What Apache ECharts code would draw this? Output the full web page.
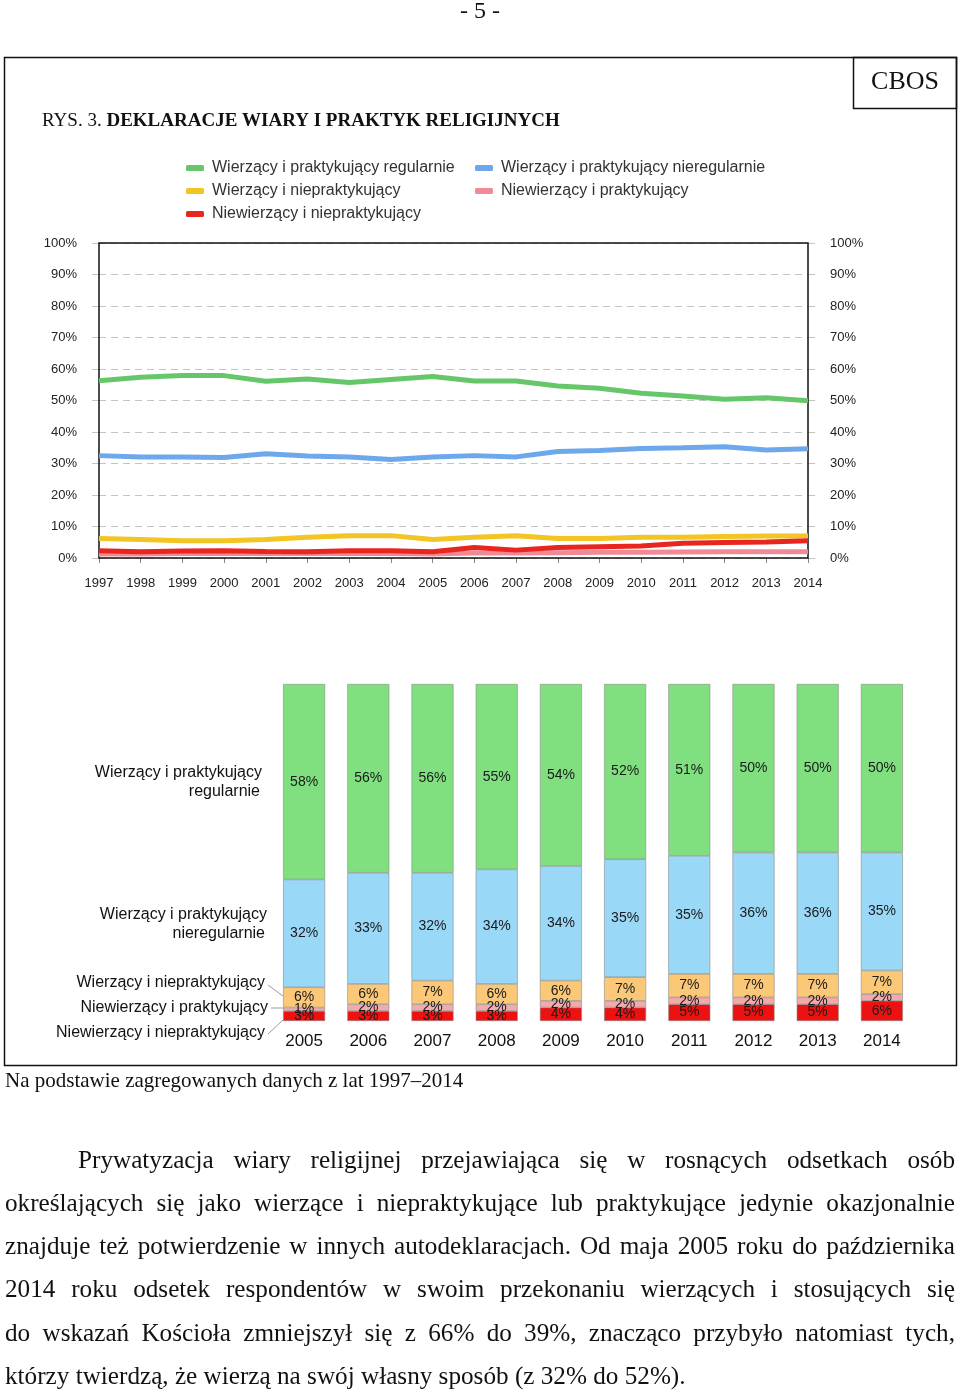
<!DOCTYPE html>
<html>
<head>
<meta charset="utf-8">
<script src="https://cdn.jsdelivr.net/npm/echarts@6/dist/echarts.min.js"></script>
<style>
  html, body { margin: 0; padding: 0; background: #fff; }
  #wrap { position: relative; width: 960px; height: 1392px; overflow: hidden; }
  #chart { position: absolute; left: 0; top: 0; width: 960px; height: 1392px; }
  .pl { position: absolute; left: 5px; width: 950px; font-family: "Liberation Serif", "Times New Roman", serif;
        font-size: 25.2px; color: #111; white-space: nowrap; text-align: justify; text-align-last: justify; line-height: 30px; }
  .pl.last { text-align-last: left; }
</style>
</head>
<body>
<div id="wrap">
  <div id="chart"></div>
  <div class="pl" style="top:1145px; left:78px; width:877px;">Prywatyzacja wiary religijnej przejawiająca się w rosnących odsetkach osób</div>
  <div class="pl" style="top:1188px;">określających się jako wierzące i niepraktykujące lub praktykujące jedynie okazjonalnie</div>
  <div class="pl" style="top:1231px;">znajduje też potwierdzenie w innych autodeklaracjach. Od maja 2005 roku do października</div>
  <div class="pl" style="top:1274px;">2014 roku odsetek respondentów w swoim przekonaniu wierzących i stosujących się</div>
  <div class="pl" style="top:1318px;">do wskazań Kościoła zmniejszył się z 66% do 39%, znacząco przybyło natomiast tych,</div>
  <div class="pl last" style="top:1361px;">którzy twierdzą, że wierzą na swój własny sposób (z 32% do 52%).</div>
</div>
<script>
// ---- Line chart data (1997–2014) ----
var lineYears = ['1997','1998','1999','2000','2001','2002','2003','2004','2005','2006','2007','2008','2009','2010','2011','2012','2013','2014'];
var lineRegular    = [56.3,57.4,57.9,57.9,56.1,56.8,55.7,56.7,57.6,56.2,56.2,54.6,53.9,52.3,51.4,50.4,50.9,49.9];
var lineIrregular  = [32.5,32.1,32.1,31.9,33.1,32.4,32.1,31.3,32.1,32.5,32.1,33.8,34.1,34.8,35.0,35.3,34.3,34.7];
var lineNonPract   = [6.2,5.9,5.5,5.5,5.9,6.6,7.1,7.1,5.9,6.6,7.1,6.2,6.2,6.6,6.6,6.8,7.0,7.0];
var lineNonbPract  = [1.3,1.3,1.4,1.4,1.4,1.4,1.5,1.4,1.3,1.6,1.6,1.7,1.8,1.8,1.9,2.0,2.0,2.0];
var lineNonbNon    = [2.3,2.0,2.2,2.3,2.1,2.0,2.3,2.3,2.0,3.3,2.5,3.3,3.6,3.8,4.7,4.9,5.1,5.5];

// ---- Stacked bar data (2005–2014) ----
var barYears = ['2005','2006','2007','2008','2009','2010','2011','2012','2013','2014'];
var barRegular   = [58,56,56,55,54,52,51,50,50,50];
var barIrregular = [32,33,32,34,34,35,35,36,36,35];
var barNonPract  = [6,6,7,6,6,7,7,7,7,7];
var barNonbPract = [1,2,2,2,2,2,2,2,2,2];
var barNonbNon   = [3,3,3,3,4,4,5,5,5,6];

var names = ['Wierzący i praktykujący regularnie','Wierzący i praktykujący nieregularnie','Wierzący i niepraktykujący','Niewierzący i praktykujący','Niewierzący i niepraktykujący'];
var lineColors = ['#66C76A','#6DA7EC','#F2C424','#F08A95','#E8251F'];
var barColors  = ['#80E080','#9AD8F8','#FBC878','#F4AAAA','#EE1111'];

var SANS = '"Liberation Sans", Arial, sans-serif';
var SERIF = '"Liberation Serif", "Times New Roman", serif';

var chart = echarts.init(document.getElementById('chart'), null, {renderer: 'canvas'});

function lineSeries(i, data) {
  return { name: names[i], type: 'line', xAxisIndex: 0, yAxisIndex: 0, data: data,
    symbol: 'none', lineStyle: { width: 5, color: lineColors[i] }, itemStyle: { color: lineColors[i] },
    z: 3 + i, animation: false };
}
function barSeries(i, data) {
  return { name: 'b' + i, type: 'bar', stack: 'tot', xAxisIndex: 1, yAxisIndex: 2, data: data,
    barWidth: 42,
    itemStyle: { color: barColors[i], borderColor: '#8a8a8a', borderWidth: 0.6 },
    label: { show: true, position: 'inside', formatter: '{c}%', color: '#1a1a1a', fontFamily: SANS, fontSize: 14 },
    animation: false };
}

var splitDash = { type: [7, 5], color: '#c4c4c4', width: 1 };
var legendText = { fontFamily: SANS, fontSize: 16, color: '#333', padding: [0, 0, 0, 3] };

var option = {
  animation: false,
  legend: [
    { left: 186, top: 160, padding: 0, orient: 'vertical', itemGap: 7, itemWidth: 18, itemHeight: 6, icon: 'roundRect',
      data: [names[0], names[2], names[4]], textStyle: legendText, selectedMode: false },
    { left: 475, top: 160, padding: 0, orient: 'vertical', itemGap: 7, itemWidth: 18, itemHeight: 6, icon: 'roundRect',
      data: [names[1], names[3]], textStyle: legendText, selectedMode: false }
  ],
  grid: [
    { left: 99, top: 243, width: 709, height: 315 },
    { left: 272, top: 684, width: 642, height: 337 }
  ],
  xAxis: [
    { type: 'category', gridIndex: 0, data: lineYears, boundaryGap: false,
      axisLine: { show: false }, axisTick: { show: true, length: 5, lineStyle: { color: '#888' } },
      axisLabel: { fontFamily: SANS, fontSize: 13, color: '#222', margin: 19 } },
    { type: 'category', gridIndex: 1, data: barYears, boundaryGap: true,
      axisLine: { show: false }, axisTick: { show: false },
      axisLabel: { fontFamily: SANS, fontSize: 17, color: '#111', margin: 12 } }
  ],
  yAxis: [
    { type: 'value', gridIndex: 0, min: 0, max: 100, interval: 10, position: 'left',
      axisLine: { show: false }, axisTick: { show: true, length: 11, lineStyle: splitDash },
      splitLine: { show: true, lineStyle: splitDash },
      axisLabel: { formatter: '{value}%', fontFamily: SANS, fontSize: 13, color: '#222', margin: 22 } },
    { type: 'value', gridIndex: 0, min: 0, max: 100, interval: 10, position: 'right',
      axisLine: { show: false }, axisTick: { show: true, length: 11, lineStyle: splitDash },
      splitLine: { show: false },
      axisLabel: { formatter: '{value}%', fontFamily: SANS, fontSize: 13, color: '#222', margin: 22 } },
    { type: 'value', gridIndex: 1, min: 0, max: 100, show: false }
  ],
  series: [
    lineSeries(0, lineRegular),
    lineSeries(1, lineIrregular),
    lineSeries(2, lineNonPract),
    lineSeries(3, lineNonbPract),
    lineSeries(4, lineNonbNon),
    barSeries(4, barNonbNon),
    barSeries(3, barNonbPract),
    barSeries(2, barNonPract),
    barSeries(1, barIrregular),
    barSeries(0, barRegular)
  ],
  graphic: [
    { type: 'text', x: 480, y: 12, style: { text: '- 5 -', font: '24px ' + SERIF, fill: '#111', align: 'center', verticalAlign: 'middle' } },
    { type: 'rect', shape: { x: 99, y: 243, width: 709, height: 315 }, style: { fill: 'none', stroke: '#111', lineWidth: 1.5 }, z: 1 },
    { type: 'rect', shape: { x: 4.5, y: 57.5, width: 952, height: 1008 }, style: { fill: 'none', stroke: '#111', lineWidth: 1.5 }, z: 50 },
    { type: 'rect', shape: { x: 853.5, y: 57.5, width: 103, height: 51 }, style: { fill: 'none', stroke: '#111', lineWidth: 1.5 }, z: 50 },
    { type: 'text', x: 905, y: 82, style: { text: 'CBOS', font: '26px ' + SERIF, fill: '#111', align: 'center', verticalAlign: 'middle' }, z: 50 },
    { type: 'text', x: 42, y: 121, style: {
        text: '{n|RYS. 3. }{b|DEKLARACJE WIARY I PRAKTYK RELIGIJNYCH}', verticalAlign: 'middle',
        rich: { n: { font: '19px ' + SERIF, fill: '#111' }, b: { font: 'bold 19px ' + SERIF, fill: '#111' } } }, z: 50 },
    // bar row labels
    { type: 'text', x: 262, y: 773, style: { text: 'Wierzący i praktykujący', font: '16px ' + SANS, fill: '#111', align: 'right', verticalAlign: 'middle' }, z: 50 },
    { type: 'text', x: 260, y: 792, style: { text: 'regularnie', font: '16px ' + SANS, fill: '#111', align: 'right', verticalAlign: 'middle' }, z: 50 },
    { type: 'text', x: 267, y: 915, style: { text: 'Wierzący i praktykujący', font: '16px ' + SANS, fill: '#111', align: 'right', verticalAlign: 'middle' }, z: 50 },
    { type: 'text', x: 265, y: 934, style: { text: 'nieregularnie', font: '16px ' + SANS, fill: '#111', align: 'right', verticalAlign: 'middle' }, z: 50 },
    { type: 'text', x: 265, y: 983, style: { text: 'Wierzący i niepraktykujący', font: '16px ' + SANS, fill: '#111', align: 'right', verticalAlign: 'middle' }, z: 50 },
    { type: 'text', x: 268, y: 1008, style: { text: 'Niewierzący i praktykujący', font: '16px ' + SANS, fill: '#111', align: 'right', verticalAlign: 'middle' }, z: 50 },
    { type: 'text', x: 265, y: 1033, style: { text: 'Niewierzący i niepraktykujący', font: '16px ' + SANS, fill: '#111', align: 'right', verticalAlign: 'middle' }, z: 50 },
    { type: 'line', shape: { x1: 268, y1: 985, x2: 283, y2: 996 }, style: { stroke: '#999', lineWidth: 1 }, z: 50 },
    { type: 'line', shape: { x1: 271, y1: 1008, x2: 283, y2: 1008 }, style: { stroke: '#999', lineWidth: 1 }, z: 50 },
    { type: 'line', shape: { x1: 268, y1: 1034, x2: 283, y2: 1020 }, style: { stroke: '#999', lineWidth: 1 }, z: 50 },
    { type: 'text', x: 5, y: 1081, style: { text: 'Na podstawie zagregowanych danych z lat 1997–2014', font: '21px ' + SERIF, fill: '#111', verticalAlign: 'middle' }, z: 50 }
  ]
};
chart.setOption(option);
</script>
</body>
</html>
